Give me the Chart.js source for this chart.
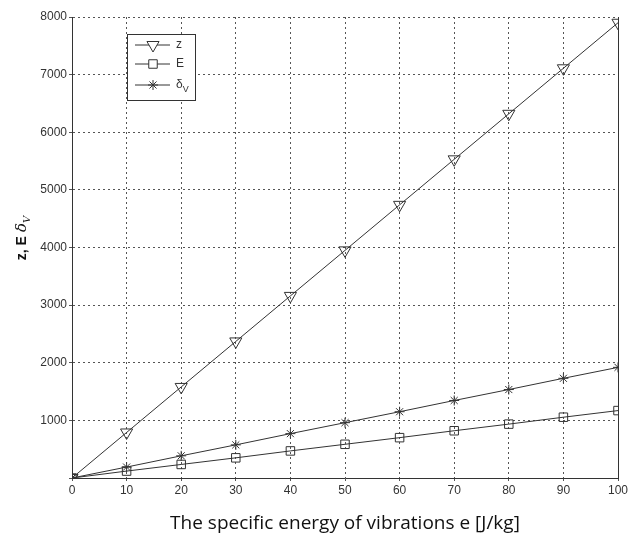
<!DOCTYPE html>
<html>
<head>
<meta charset="utf-8">
<script src="https://cdn.jsdelivr.net/npm/chart.js@4/dist/chart.umd.min.js"></script>
<style>
  html, body { margin: 0; padding: 0; background: #fff; }
  #wrap { width: 632px; height: 535px; position: relative; }
</style>
</head>
<body>
<div id="wrap"><canvas id="myChart"></canvas></div>
<script>
const energy = [0, 10, 20, 30, 40, 50, 60, 70, 80, 90, 100]
const zVals = [0, 790, 1580, 2370, 3160, 3950, 4740, 5530, 6320, 7110, 7900]
const eVals = [0, 120, 235, 350, 470, 585, 700, 820, 935, 1055, 1170]
const deltaVals = [0, 190, 385, 575, 770, 960, 1150, 1345, 1535, 1730, 1920]
const seriesNames = ['z', 'E', 'δ']
const xTitle = 'The specific energy of vibrations e [J/kg]'

const ink = '#333'
const toPoints = (vals) => energy.map((e, i) => ({ x: e, y: vals[i] }))

const dataConfig = {
  datasets: [
    {
      label: seriesNames[0],
      data: toPoints(zVals),
      borderColor: ink,
      borderWidth: 1,
      pointStyle: 'triangle',
      rotation: 180,
      pointRadius: 7,
      pointBorderColor: ink,
      pointBackgroundColor: 'rgba(255,255,255,0)',
      pointBorderWidth: 1
    },
    {
      label: seriesNames[1],
      data: toPoints(eVals),
      borderColor: ink,
      borderWidth: 1,
      pointStyle: 'rect',
      pointRadius: 6,
      pointBorderColor: ink,
      pointBackgroundColor: 'rgba(255,255,255,0)',
      pointBorderWidth: 1
    },
    {
      label: seriesNames[2],
      data: toPoints(deltaVals),
      borderColor: ink,
      borderWidth: 1,
      pointStyle: 'star',
      pointRadius: 5,
      pointBorderColor: ink,
      pointBorderWidth: 1
    }
  ]
}

// legend box inside the plot + y title with subscript + solid right frame
const extras = {
  id: 'extras',
  afterDraw(chart) {
    const ctx = chart.ctx
    const area = chart.chartArea
    ctx.save()

    // right frame line
    ctx.strokeStyle = ink
    ctx.lineWidth = 1
    ctx.beginPath()
    ctx.moveTo(area.right + 0.5, area.top)
    ctx.lineTo(area.right + 0.5, area.bottom)
    ctx.stroke()

    // legend
    const bx = area.left + 55, by = area.top + 17, bw = 68, bh = 66
    ctx.fillStyle = '#fff'
    ctx.fillRect(bx, by, bw, bh)
    ctx.strokeRect(bx + 0.5, by + 0.5, bw, bh)
    const rows = [11, 30, 51]
    chart.data.datasets.forEach((ds, i) => {
      const y = by + rows[i]
      ctx.strokeStyle = ink
      ctx.beginPath()
      ctx.moveTo(bx + 8, y)
      ctx.lineTo(bx + 43, y)
      ctx.stroke()
      ctx.fillStyle = '#fff'
      Chart.helpers.drawPoint(ctx, {
        pointStyle: ds.pointStyle,
        rotation: ds.rotation || 0,
        radius: ds.pointRadius,
        borderWidth: 1
      }, bx + 26, y)
      ctx.fillStyle = ink
      ctx.font = '12px "Liberation Sans"'
      ctx.textBaseline = 'middle'
      ctx.fillText(ds.label, bx + 49, y)
      if (i === 2) {
        const w = ctx.measureText(ds.label).width
        ctx.font = '9px "Liberation Sans"'
        ctx.fillText('V', bx + 49 + w, y + 5)
      }
    })

    // y axis title
    ctx.translate(22, 238)
    ctx.rotate(-Math.PI / 2)
    ctx.fillStyle = '#111'
    ctx.textBaseline = 'middle'
    const p1 = 'z, E'
    ctx.font = 'bold 14px "Liberation Sans"'
    const w1 = ctx.measureText(p1).width + 4
    ctx.font = 'italic 15px "DejaVu Serif"'
    const w2 = ctx.measureText('δ').width
    ctx.font = 'italic 10px "DejaVu Serif"'
    const w3 = ctx.measureText('V').width
    let x0 = -(w1 + w2 + w3) / 2
    ctx.font = 'bold 14px "Liberation Sans"'
    ctx.fillText(p1, x0, 0)
    ctx.font = 'italic 15px "DejaVu Serif"'
    ctx.fillText('δ', x0 + w1, 0)
    ctx.font = 'italic 10px "DejaVu Serif"'
    ctx.fillText('V', x0 + w1 + w2, 5)
    ctx.restore()
  }
}

const tickFont = { family: '"Liberation Sans"', size: 12 }

const config = {
  type: 'line',
  data: dataConfig,
  options: {
    responsive: true,
    maintainAspectRatio: false,
    animation: false,
    layout: { padding: { left: 0, right: 14, top: 17, bottom: 0 } },
    plugins: {
      legend: { display: false },
      tooltip: { enabled: false }
    },
    scales: {
      x: {
        type: 'linear',
        min: 0,
        max: 100,
        ticks: { stepSize: 10, color: '#333', font: tickFont, padding: 2 },
        grid: { color: '#555', lineWidth: 1, tickLength: 3 },
        border: { display: true, color: ink, dash: [2, 3] },
        title: {
          display: true,
          text: xTitle,
          color: '#111',
          font: { family: '"Open Sans"', size: 19 },
          padding: { top: 4, bottom: 0 }
        },
        afterFit(scale) { scale.height = 57 }
      },
      y: {
        min: 0,
        max: 8000,
        ticks: {
          stepSize: 1000,
          color: '#333',
          font: tickFont,
          padding: 2,
          callback: (v) => v === 0 ? '' : v
        },
        grid: { color: '#555', lineWidth: 1, tickLength: 3 },
        border: { display: true, color: ink, dash: [2, 3] },
        afterFit(scale) { scale.width = 72 }
      }
    }
  },
  plugins: [extras]
}

const myChart = new Chart(document.getElementById('myChart'), config)
</script>
</body>
</html>
